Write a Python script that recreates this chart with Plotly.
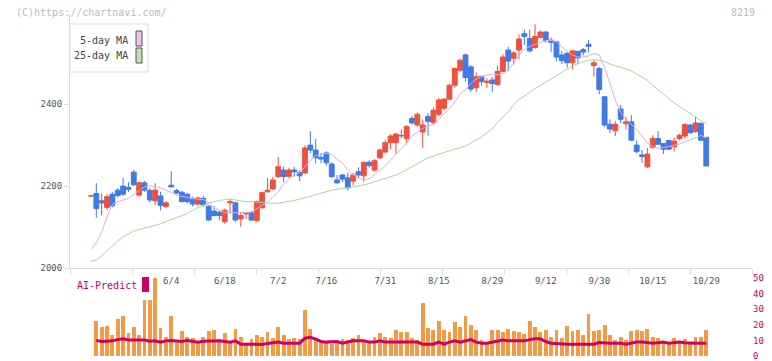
import plotly.graph_objects as go

# ---------------- data ----------------
open_ = [2176, 2182, 2164, 2148, 2180, 2190, 2200, 2197, 2234, 2178,
         2208, 2189, 2164, 2176, 2150, 2202, 2189, 2185, 2180, 2168,
         2156, 2170, 2151, 2139, 2136, 2113, 2159, 2159, 2120, 2132,
         2135, 2116, 2147, 2186, 2193, 2223, 2239, 2224, 2239, 2233,
         2232, 2300, 2288, 2270, 2281, 2254, 2215, 2227, 2220, 2212,
         2235, 2225, 2258, 2239, 2269, 2283, 2306, 2306, 2323, 2316,
         2365, 2349, 2332, 2370, 2355, 2375, 2390, 2412, 2446, 2483,
         2520, 2491, 2440, 2468, 2453, 2459, 2448, 2480, 2532, 2512,
         2532, 2572, 2560, 2538, 2563, 2576, 2556, 2552, 2520, 2524,
         2501, 2529, 2533, 2546, 2494, 2487, 2418, 2351, 2335, 2388,
         2352, 2357, 2300, 2276, 2247, 2294, 2316, 2304, 2311, 2296,
         2316, 2322, 2349, 2333, 2353, 2319]
high_ = [2176, 2207, 2182, 2180, 2186, 2195, 2220, 2210, 2239, 2212,
         2212, 2195, 2207, 2186, 2163, 2236, 2193, 2188, 2183, 2174,
         2174, 2176, 2153, 2151, 2141, 2145, 2168, 2162, 2137, 2137,
         2138, 2165, 2186, 2220, 2223, 2271, 2247, 2245, 2247, 2239,
         2300, 2334, 2315, 2281, 2285, 2258, 2227, 2229, 2232, 2232,
         2246, 2260, 2263, 2266, 2292, 2312, 2327, 2330, 2338, 2349,
         2372, 2380, 2362, 2378, 2392, 2415, 2415, 2450, 2490, 2512,
         2524, 2495, 2477, 2468, 2463, 2466, 2494, 2522, 2540, 2530,
         2570, 2582, 2582, 2595, 2580, 2579, 2562, 2555, 2530, 2528,
         2530, 2529, 2537, 2556, 2509, 2491, 2420, 2363, 2358, 2398,
         2369, 2373, 2312, 2288, 2293, 2324, 2334, 2304, 2312, 2318,
         2327, 2354, 2351, 2369, 2356, 2320]
low_ = [2176, 2123, 2128, 2141, 2148, 2172, 2176, 2185, 2200, 2174,
        2186, 2160, 2154, 2141, 2146, 2197, 2180, 2160, 2158, 2150,
        2152, 2150, 2115, 2126, 2117, 2108, 2133, 2113, 2101, 2120,
        2115, 2112, 2145, 2184, 2190, 2220, 2210, 2220, 2223, 2212,
        2230, 2280, 2255, 2255, 2250, 2220, 2205, 2210, 2189, 2201,
        2220, 2210, 2245, 2235, 2265, 2280, 2290, 2280, 2316, 2302,
        2350, 2345, 2293, 2323, 2350, 2370, 2385, 2410, 2440, 2478,
        2455, 2430, 2430, 2445, 2439, 2430, 2445, 2478, 2481, 2497,
        2510, 2544, 2527, 2535, 2560, 2550, 2527, 2505, 2498, 2489,
        2485, 2497, 2519, 2526, 2467, 2424, 2345, 2329, 2322, 2354,
        2338, 2310, 2280, 2257, 2244, 2292, 2302, 2278, 2288, 2284,
        2312, 2316, 2328, 2330, 2310, 2249]
close_ = [2176, 2145, 2159, 2174, 2152, 2177, 2180, 2192, 2203, 2208,
          2190, 2166, 2190, 2153, 2159, 2198, 2183, 2162, 2162, 2156,
          2171, 2154, 2117, 2128, 2128, 2141, 2162, 2117, 2128, 2134,
          2117, 2162, 2184, 2190, 2215, 2247, 2223, 2239, 2235, 2225,
          2293, 2288, 2269, 2266, 2257, 2223, 2208, 2217, 2196, 2227,
          2227, 2258, 2250, 2262, 2288, 2306, 2322, 2327, 2323, 2345,
          2354, 2375, 2349, 2358, 2385, 2410, 2412, 2446, 2487, 2507,
          2465, 2437, 2467, 2455, 2456, 2450, 2480, 2515, 2505, 2525,
          2559, 2565, 2530, 2565, 2576, 2555, 2551, 2515, 2506, 2501,
          2530, 2513, 2527, 2541, 2501, 2436, 2349, 2339, 2351, 2363,
          2357, 2312, 2284, 2272, 2278, 2316, 2302, 2290, 2290, 2310,
          2324, 2350, 2330, 2354, 2312, 2249]
ma5 = [2045, 2062, 2088, 2125, 2155, 2162, 2166, 2170, 2180, 2188,
       2198, 2201, 2199, 2196, 2190, 2184, 2178, 2175, 2172, 2170,
       2168, 2167, 2160, 2148, 2140, 2136, 2135, 2135, 2135, 2135,
       2137, 2145, 2154, 2161, 2172, 2186, 2206, 2218, 2228, 2232,
       2248, 2263, 2274, 2279, 2280, 2278, 2265, 2256, 2240, 2228,
       2219, 2215, 2218, 2227, 2238, 2250, 2264, 2278, 2292, 2305,
       2322, 2332, 2341, 2346, 2351, 2362, 2375, 2390, 2405, 2425,
       2435, 2450, 2462, 2467, 2471, 2473, 2472, 2475, 2484, 2499,
       2520, 2533, 2541, 2546, 2550, 2555, 2556, 2552, 2540, 2528,
       2520, 2515, 2515, 2518, 2524, 2520, 2490, 2450, 2410, 2380,
       2365, 2350, 2338, 2322, 2305, 2296, 2292, 2294, 2296, 2299,
       2303, 2309, 2313, 2318, 2324, 2316]
ma25 = [2016, 2020, 2030, 2042, 2055, 2066, 2076, 2084, 2090, 2094,
        2097, 2101, 2104, 2108, 2113, 2117, 2122, 2127, 2133, 2141,
        2148, 2154, 2158, 2162, 2165, 2167, 2168, 2166, 2164, 2162,
        2162, 2161, 2159, 2158, 2158, 2158, 2160, 2162, 2165, 2168,
        2171, 2175, 2179, 2183, 2187, 2190, 2192, 2194, 2195, 2198,
        2200, 2203, 2206, 2211, 2215, 2219, 2223, 2227, 2233, 2240,
        2247, 2254, 2262, 2269, 2273, 2278, 2282, 2286, 2290, 2294,
        2298, 2305, 2312, 2320, 2330, 2340, 2355, 2368, 2382, 2398,
        2412, 2420, 2430, 2438, 2446, 2453, 2461, 2469, 2478, 2486,
        2493, 2499, 2504, 2507, 2508, 2507, 2504, 2498, 2493, 2490,
        2486, 2481, 2474, 2466, 2458, 2446, 2436, 2425, 2414, 2403,
        2394, 2385, 2376, 2368, 2360, 2353]
volume = [0, 22.3, 18.3, 19.2, 13.5, 24, 25.5, 14.6, 18.3, 13.5,
          36, 36, 55, 17.7, 12.4, 25.5, 10.3, 16, 12, 11.4,
          8.9, 12, 16, 16.6, 11, 14.6, 8.9, 17, 12.4, 7.2,
          11, 13.5, 12, 15.2, 11.4, 18.3, 13.5, 11, 11.4, 11,
          29.3, 17, 11.4, 9.3, 9.3, 7.6, 8.2, 11, 10.3, 11.8,
          13.5, 10.3, 8.2, 12.4, 14.6, 12, 11.4, 16.6, 15.2, 15.2,
          11.4, 10.3, 34.2, 17.7, 16.6, 22.3, 16.6, 15.2, 21.5, 18.3,
          25.5, 19.8, 16.6, 10.3, 8.2, 16.6, 16.6, 15.2, 17, 16,
          15.2, 13.9, 22.3, 18.3, 15.2, 16.6, 12.4, 16.6, 11.4, 19.2,
          16.2, 16.6, 13.5, 27.2, 16, 16.6, 19.8, 13.5, 10.3, 12,
          10.3, 16, 16.6, 16, 17, 12, 11.4, 8.9, 8.2, 11.4,
          8.9, 10.8, 8.9, 12, 12, 16.6]
ai_predict = [None, 10.0, 9.3, 9.5, 9.7, 10.5, 11.0, 10.3, 10.3, 10.3,
              10.3, 9.5, 9.7, 8.9, 9.7, 10.0, 9.7, 9.3, 10.0, 9.5,
              8.9, 9.5, 9.7, 9.7, 9.7, 9.3, 8.9, 9.7, 7.6, 7.6,
              7.6, 7.8, 7.4, 8.0, 8.5, 8.9, 8.2, 8.2, 8.2, 8.2,
              11.4, 12.0, 10.8, 9.3, 8.9, 8.9, 9.3, 8.2, 8.9, 9.7,
              9.7, 9.7, 8.9, 8.9, 9.7, 8.9, 8.9, 8.9, 8.9, 8.9,
              8.9, 8.9, 7.6, 7.6, 7.6, 8.9, 7.6, 8.9, 9.7, 8.9,
              9.5, 10.5, 8.9, 8.2, 8.2, 8.9, 9.7, 10.3, 9.7, 9.7,
              9.7, 9.7, 10.5, 11.0, 11.0, 9.3, 8.2, 7.9, 7.6, 7.6,
              7.6, 7.6, 7.6, 7.6, 7.6, 8.6, 8.2, 8.2, 8.2, 8.2,
              7.6, 8.2, 8.9, 8.9, 8.5, 8.2, 8.5, 8.9, 8.2, 8.5,
              8.9, 8.5, 8.2, 8.2, 8.2, 8.2]
tick_labels = ["6/4", "6/18", "7/2", "7/16", "7/31", "8/15", "8/29",
               "9/12", "9/30", "10/15", "10/29"]
tick_index = [15, 25, 35, 44, 55, 65, 75, 85, 95, 105, 115]
price_ticks = [2000, 2200, 2400]
ai_ticks = [0, 10, 20, 30, 40, 50]

# ---------------- style ----------------
RED = "#f0503c"
BLUE = "#3f7ae8"
ORANGE = "#f39a45"
CRIMSON = "#cc0066"
PINK = "#e8a8e8"
GREEN = "#a8d898"
FONT = "DejaVu Sans Mono"

W, H = 772, 361
ML, MR = 70, 20
PW = W - ML - MR


def px_x(p):
    return (p - ML) / PW


def px_y(p):
    return (H - p) / H


x = list(range(len(close_)))
x_lo, x_hi = -3.92, 123.55
minor_vals = [x_lo + k * (x_hi - x_lo) / 11 for k in range(12)]

fig = go.Figure()
fig.add_trace(go.Scatter(x=x, y=ma25, mode="lines", line=dict(color=GREEN, width=1),
                         hoverinfo="skip", xaxis="x", yaxis="y"))
fig.add_trace(go.Scatter(x=x, y=ma5, mode="lines", line=dict(color=PINK, width=1),
                         hoverinfo="skip", xaxis="x", yaxis="y"))
fig.add_trace(go.Candlestick(
    x=x, open=open_, high=high_, low=low_, close=close_,
    increasing=dict(line=dict(color=RED, width=1), fillcolor=RED),
    decreasing=dict(line=dict(color=BLUE, width=1), fillcolor=BLUE),
    whiskerwidth=0, xaxis="x", yaxis="y"))
fig.add_trace(go.Bar(x=x, y=volume, width=0.72, marker=dict(color=ORANGE, line=dict(width=0)),
                     xaxis="x2", yaxis="y2"))
fig.add_trace(go.Scatter(x=x, y=ai_predict, mode="lines", line=dict(color=CRIMSON, width=3),
                         xaxis="x2", yaxis="y2"))

fig.update_layout(
    template="none",
    width=W, height=H,
    margin=dict(l=ML, r=MR, t=0, b=0, pad=0),
    paper_bgcolor="white", plot_bgcolor="white",
    showlegend=False,
    boxgap=0.1, boxgroupgap=0, bargap=0,
    xaxis=dict(domain=[0, 1], range=[x_lo, x_hi], anchor="y", automargin=False,
               tickmode="array", tickvals=tick_index, ticktext=tick_labels,
               ticks="outside", ticklen=4, tickcolor="rgba(0,0,0,0)",
               showline=True, linecolor="#dddddd", linewidth=1,
               showgrid=False, zeroline=False,
               rangeslider=dict(visible=False),
               tickfont=dict(family=FONT, size=9, color="#555555"),
               minor=dict(tickmode="array", tickvals=minor_vals, ticks="outside",
                          ticklen=6, tickcolor="#dddddd", tickwidth=1, showgrid=False)),
    yaxis=dict(domain=[px_y(268), px_y(14)], range=[2000, 2620], anchor="x", automargin=False,
               tickmode="array", tickvals=price_ticks,
               ticks="outside", ticklen=5, tickcolor="#dddddd",
               showline=True, linecolor="#dddddd", linewidth=1,
               showgrid=False, zeroline=False,
               tickfont=dict(family=FONT, size=9, color="#555555")),
    xaxis2=dict(domain=[0, 1], matches="x", anchor="y2", showticklabels=False, automargin=False,
                ticks="", showline=False, showgrid=False, zeroline=False),
    yaxis2=dict(domain=[px_y(356), px_y(278)], range=[0, 50], anchor="x2", side="right",
                automargin=False, ticklabeloverflow="allow",
                tickmode="array", tickvals=ai_ticks, ticks="",
                showline=False, showgrid=False, zeroline=False,
                tickfont=dict(family=FONT, size=9, color=CRIMSON)),
)

shapes = [
    dict(type="rect", xref="paper", yref="paper", x0=px_x(70), x1=px_x(148),
         y0=px_y(72), y1=px_y(24), line=dict(color="#dddddd", width=1), fillcolor="white"),
    dict(type="rect", xref="paper", yref="paper", x0=px_x(136), x1=px_x(142),
         y0=px_y(46), y1=px_y(31), line=dict(color="#555555", width=1), fillcolor="#f0c0f0"),
    dict(type="rect", xref="paper", yref="paper", x0=px_x(136), x1=px_x(142),
         y0=px_y(63), y1=px_y(48), line=dict(color="#555555", width=1), fillcolor="#c0e0b0"),
    dict(type="rect", xref="paper", yref="paper", x0=px_x(142), x1=px_x(149),
         y0=px_y(292), y1=px_y(277), line=dict(width=0), fillcolor=CRIMSON),
]
annotations = [
    dict(text="(C)https://chartnavi.com/", xref="paper", yref="paper", x=px_x(14), y=px_y(12),
         xanchor="left", yanchor="middle", showarrow=False,
         font=dict(family=FONT, size=10, color="#bbbbbb")),
    dict(text="8219", xref="paper", yref="paper", x=px_x(757), y=px_y(12),
         xanchor="right", yanchor="middle", showarrow=False,
         font=dict(family=FONT, size=10, color="#bbbbbb")),
    dict(text="5-day MA", xref="paper", yref="paper", x=px_x(130), y=px_y(40),
         xanchor="right", yanchor="middle", showarrow=False,
         font=dict(family=FONT, size=10, color="#444444")),
    dict(text="25-day MA", xref="paper", yref="paper", x=px_x(130), y=px_y(56),
         xanchor="right", yanchor="middle", showarrow=False,
         font=dict(family=FONT, size=10, color="#444444")),
    dict(text="AI-Predict", xref="paper", yref="paper", x=px_x(75), y=px_y(285),
         xanchor="left", yanchor="middle", showarrow=False,
         font=dict(family=FONT, size=10, color=CRIMSON)),
]
fig.update_layout(shapes=shapes, annotations=annotations)

fig.write_html("out.html",
               config={"displayModeBar": False},
               post_script="document.body.style.margin='0px';"
                           "document.body.style.overflow='hidden';")
